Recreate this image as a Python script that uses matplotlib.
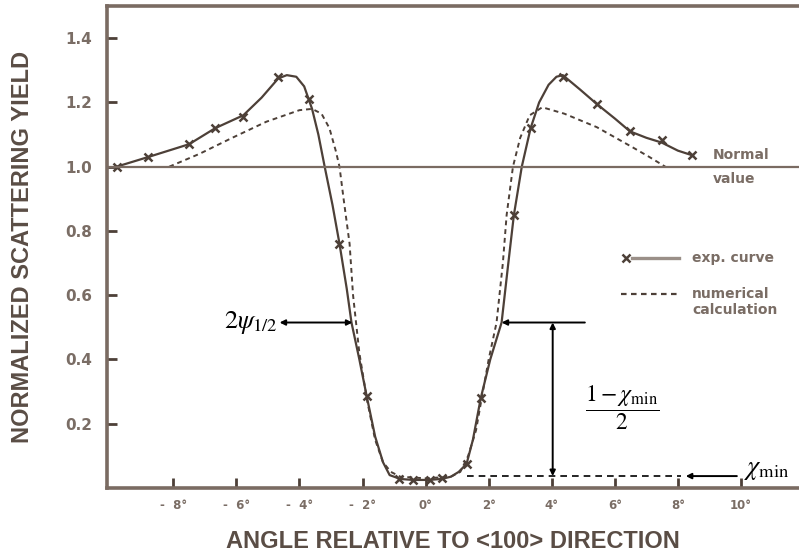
import matplotlib.pyplot as plt

# --- data ---
# measured points (x markers)
exp_x = [-9.8, -8.8, -7.5, -6.67, -5.78, -4.67, -3.71, -2.73, -1.87,
         -0.83, -0.41, 0.13, 0.51, 1.3, 1.75, 2.8, 3.33, 4.35, 5.43, 6.48, 7.49, 8.44]
exp_y = [1.0, 1.03, 1.07, 1.12, 1.155, 1.28, 1.21, 0.76, 0.287,
         0.028, 0.025, 0.025, 0.03, 0.075, 0.28, 0.85, 1.12, 1.28, 1.195, 1.11, 1.083, 1.036]

# traced solid line of the exp. curve
exp_line_x = [-9.8, -8.8, -7.5, -6.67, -5.78, -5.2, -4.67, -4.4, -4.1, -3.85, -3.6, -3.4,
              -3.2, -2.95, -2.73, -2.5, -2.35, -2.1, -1.87, -1.6, -1.35, -1.14, -0.8, -0.4,
              0.1, 0.5, 0.8, 1.05, 1.3, 1.5, 1.75, 2.05, 2.41, 2.6, 2.8, 3.05, 3.33, 3.6,
              3.9, 4.15, 4.35, 4.9, 5.43, 6.0, 6.48, 7.0, 7.49, 8.0, 8.44]
exp_line_y = [1.0, 1.03, 1.07, 1.12, 1.16, 1.215, 1.275, 1.285, 1.28, 1.25, 1.18, 1.1,
              1.0, 0.88, 0.76, 0.62, 0.515, 0.4, 0.287, 0.16, 0.08, 0.04, 0.028, 0.025,
              0.025, 0.028, 0.035, 0.05, 0.075, 0.15, 0.28, 0.4, 0.515, 0.68, 0.85, 1.0,
              1.12, 1.2, 1.255, 1.28, 1.285, 1.24, 1.195, 1.15, 1.11, 1.09, 1.075, 1.05, 1.036]

# traced dashed line of the numerical calculation
calc_x = [-8.13, -7.17, -6.13, -5.05, -4.0, -3.6, -3.3, -3.05, -2.85, -2.73, -2.6, -2.41,
          -2.3, -2.1, -1.85, -1.6, -1.35, -1.1, -0.8, 0.0, 0.8, 1.1, 1.35, 1.6, 1.78, 2.0,
          2.25, 2.45, 2.57, 2.77, 3.0, 3.3, 3.7, 4.4, 5.43, 6.57, 7.1, 7.6]
calc_y = [1.0, 1.04, 1.09, 1.14, 1.176, 1.18, 1.165, 1.12, 1.05, 1.0, 0.9, 0.76,
          0.6, 0.42, 0.27, 0.15, 0.08, 0.05, 0.035, 0.03, 0.035, 0.05, 0.1, 0.18, 0.28,
          0.4, 0.515, 0.7, 0.85, 1.0, 1.09, 1.16, 1.185, 1.165, 1.123, 1.06, 1.03, 1.0]

x_ticks = [-8, -6, -4, -2, 0, 2, 4, 6, 8, 10]
x_ticklabels = ['-  8°', '-  6°', '-  4°', '-  2°', '0°', '2°', '4°', '6°', '8°', '10°']
y_ticks = [0.2, 0.4, 0.6, 0.8, 1.0, 1.2, 1.4]

chi_min = 0.037
half_level = 0.515

plt.rcParams['mathtext.fontset'] = 'stix'
plt.rcParams['font.family'] = ['Liberation Sans Narrow', 'Liberation Sans', 'DejaVu Sans']

axis_col = '#7a6b62'
line_col = '#4d4038'
text_col = '#7a6d65'
small = ['DejaVu Sans']

fig = plt.figure(figsize=(7.99, 5.52), dpi=100)
ax = fig.add_axes([0.134, 0.116, 0.866, 0.873])

# curves
ax.plot(exp_line_x, exp_line_y, color=line_col, lw=1.6)
ax.plot(exp_x, exp_y, ls='none', marker='x', ms=6, mew=1.8, color=line_col)
ax.plot(calc_x, calc_y, color=line_col, lw=1.4, ls=(0, (2.5, 2)))

# normal value line
ax.axhline(1.0, color=axis_col, lw=1.6)
ax.text(9.1, 1.015, 'Normal', color=text_col, fontsize=10, fontweight='bold',
        family=small, va='bottom')
ax.text(9.1, 0.985, 'value', color=text_col, fontsize=10, fontweight='bold',
        family=small, va='top')

# legend drawn by hand
ax.plot([6.35], [0.715], marker='x', ms=6, mew=1.8, color=line_col)
ax.plot([6.55, 8.05], [0.715, 0.715], color='#9a8f88', lw=2.4)
ax.plot([6.2, 8.0], [0.603, 0.603], color=line_col, lw=1.6, ls=(0, (2.5, 2)))
leg_font = dict(color=text_col, fontsize=10, fontweight='bold', family=small, va='center')
ax.text(8.45, 0.715, 'exp. curve', **leg_font)
ax.text(8.45, 0.603, 'numerical', **leg_font)
ax.text(8.45, 0.555, 'calculation', **leg_font)

# annotations
arr = dict(arrowstyle='<|-|>', color='black', lw=1.4, mutation_scale=8, shrinkA=0, shrinkB=0)
ax.annotate('', xy=(-2.32, half_level), xytext=(-4.63, half_level), arrowprops=arr)
ax.text(-4.68, half_level, r'$2\psi_{1/2}$', fontsize=19, ha='right', va='center')

ax.annotate('', xy=(2.41, half_level), xytext=(5.05, half_level),
            arrowprops=dict(arrowstyle='-|>', color='black', lw=1.4, mutation_scale=8,
                            shrinkA=0, shrinkB=0))
ax.annotate('', xy=(4.03, chi_min), xytext=(4.03, half_level), arrowprops=arr)
ax.text(6.25, 0.25, r'$\dfrac{1-\chi_{\rm min}}{2}$', fontsize=17, ha='center', va='center')

ax.plot([1.3, 8.1], [chi_min, chi_min], color='black', lw=1.2, ls=(0, (4, 3)))
ax.annotate('', xy=(8.25, chi_min), xytext=(9.87, chi_min),
            arrowprops=dict(arrowstyle='-|>', color='black', lw=1.4, mutation_scale=8,
                            shrinkA=0, shrinkB=0))
ax.text(10.1, 0.055, r'$\chi_{\rm min}$', fontsize=19, ha='left', va='center')

# axes styling
ax.set_xlim(-10.1, 11.84)
ax.set_ylim(0, 1.5)
ax.spines['right'].set_visible(False)
for s in ['left', 'bottom', 'top']:
    ax.spines[s].set_color(axis_col)
    ax.spines[s].set_linewidth(2.6)

ax.set_xticks(x_ticks)
ax.set_xticklabels(x_ticklabels, fontsize=8.5, color=text_col, fontweight='bold',
                   family=small)
ax.set_yticks(y_ticks)
ax.set_yticklabels([f'{v:.1f}' for v in y_ticks], fontsize=11, color=text_col,
                   fontweight='bold', family=small)
ax.tick_params(axis='both', direction='in', length=7, width=2, color='#4d4038')
ax.tick_params(axis='x', pad=8)
ax.tick_params(axis='y', pad=11)

ax.set_xlabel('ANGLE RELATIVE TO <100> DIRECTION', fontsize=17, color='#5a4d45',
              fontweight='bold', labelpad=13)
ax.set_ylabel('NORMALIZED SCATTERING YIELD', fontsize=17, color='#5a4d45',
              fontweight='bold', labelpad=22)

fig.savefig('out.png', dpi=100)
